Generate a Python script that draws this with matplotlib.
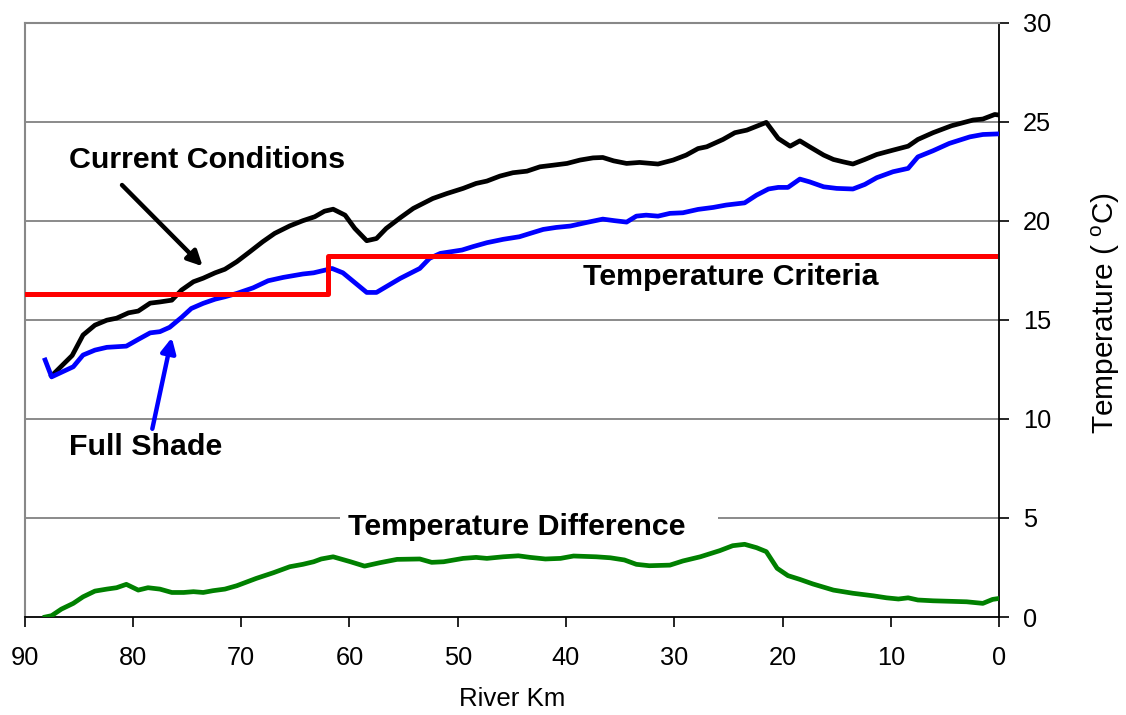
import matplotlib.pyplot as plt

plt.rcParams['font.family'] = ['Liberation Sans', 'DejaVu Sans']
plt.rcParams['mathtext.default'] = 'regular'

# current conditions (river km, deg C)
current_km = [87.5, 85.6, 84.6, 83.5, 82.4, 81.5, 80.4, 79.5, 78.4, 77.5, 76.4, 75.5,
              74.4, 73.5, 72.4, 71.5, 70.4, 69.2, 68.0, 66.9, 65.5, 64.3, 63.2, 62.3,
              61.5, 60.4, 59.5, 58.4, 57.5, 56.6, 55.3, 54.1, 52.3, 51.0, 49.5, 48.3,
              47.3, 46.1, 44.9, 43.6, 42.4, 41.2, 39.9, 38.7, 37.5, 36.6, 35.6, 34.4,
              33.2, 31.5, 30.1, 28.9, 27.8, 27.0, 25.5, 24.4, 23.3, 21.5, 20.4, 19.3,
              18.4, 17.5, 16.2, 15.3, 14.4, 13.5, 12.4, 11.3, 9.8, 8.4, 7.5, 6.1,
              4.4, 2.4, 1.5, 0.4, 0.0]
current_temp = [12.17, 13.2, 14.23, 14.73, 14.98, 15.08, 15.35, 15.44, 15.84, 15.9, 15.99, 16.5,
                16.92, 17.1, 17.37, 17.55, 17.93, 18.43, 18.94, 19.36, 19.74, 20.0, 20.2, 20.48,
                20.58, 20.28, 19.61, 18.99, 19.1, 19.61, 20.15, 20.62, 21.12, 21.37, 21.63, 21.88,
                22.0, 22.25, 22.42, 22.5, 22.72, 22.8, 22.89, 23.06, 23.17, 23.19, 23.02, 22.89,
                22.94, 22.86, 23.06, 23.31, 23.64, 23.73, 24.1, 24.44, 24.57, 24.96, 24.15, 23.76,
                24.03, 23.73, 23.31, 23.09, 22.97, 22.86, 23.09, 23.34, 23.56, 23.76, 24.1, 24.44,
                24.79, 25.08, 25.13, 25.36, 25.33]

# full shade
shade_km = [88.1, 87.5, 85.5, 84.6, 83.5, 82.4, 80.6, 79.5, 78.4, 77.5, 76.6, 75.5,
            74.6, 73.5, 72.4, 71.5, 70.4, 68.9, 67.5, 66.1, 64.3, 63.3, 61.6, 60.6,
            59.6, 58.4, 57.5, 55.3, 53.5, 52.6, 51.6, 49.6, 48.6, 47.3, 45.8, 44.3,
            43.3, 42.1, 40.9, 39.6, 38.1, 36.6, 35.5, 34.4, 33.5, 32.6, 31.5, 30.4,
            29.2, 27.8, 26.4, 25.2, 23.5, 22.4, 21.3, 20.4, 19.5, 18.4, 17.5, 16.2,
            15.0, 13.5, 12.4, 11.3, 9.8, 8.4, 7.5, 6.1, 4.6, 2.7, 1.5, 0.1]
shade_temp = [12.97, 12.12, 12.63, 13.22, 13.47, 13.61, 13.67, 14.01, 14.34, 14.4, 14.62, 15.12,
              15.57, 15.83, 16.04, 16.16, 16.33, 16.61, 16.97, 17.14, 17.31, 17.37, 17.59, 17.37,
              16.92, 16.38, 16.38, 17.09, 17.59, 18.1, 18.35, 18.52, 18.69, 18.89, 19.06, 19.19,
              19.36, 19.56, 19.66, 19.73, 19.91, 20.08, 20.0, 19.93, 20.23, 20.28, 20.23, 20.37,
              20.4, 20.57, 20.67, 20.79, 20.9, 21.29, 21.6, 21.68, 21.68, 22.1, 21.96, 21.71,
              21.63, 21.6, 21.83, 22.17, 22.47, 22.64, 23.22, 23.53, 23.9, 24.23, 24.35, 24.38]

# temperature criteria, stepped at km 62
criteria_km = [90, 62, 0.4]
criteria_temp = [16.3, 18.2, 18.2]

# temperature difference
diff_km = [88.1, 87.5, 86.6, 85.5, 84.6, 83.5, 82.4, 81.5, 80.6, 79.5, 78.6, 77.5,
           76.4, 75.3, 74.4, 73.5, 72.6, 71.5, 70.4, 68.6, 67.0, 65.5, 64.3, 63.3,
           62.6, 61.5, 59.9, 58.6, 57.2, 55.6, 53.5, 52.4, 51.3, 49.5, 48.3, 47.3,
           45.8, 44.4, 43.3, 41.9, 40.5, 39.3, 37.2, 35.9, 34.6, 33.5, 32.3, 30.4,
           29.2, 27.6, 25.8, 24.6, 23.5, 22.4, 21.5, 20.5, 19.5, 18.4, 17.2, 15.3,
           13.5, 11.6, 10.4, 9.3, 8.4, 7.5, 6.1, 3.0, 1.5, 0.6, 0.0]
diff_temp = [0.0, 0.07, 0.4, 0.69, 1.02, 1.31, 1.41, 1.48, 1.65, 1.36, 1.48, 1.41,
             1.24, 1.24, 1.28, 1.24, 1.33, 1.41, 1.58, 1.95, 2.24, 2.54, 2.66, 2.79,
             2.93, 3.04, 2.79, 2.57, 2.74, 2.91, 2.93, 2.76, 2.79, 2.96, 3.01, 2.96,
             3.04, 3.09, 3.01, 2.93, 2.96, 3.08, 3.04, 2.99, 2.88, 2.66, 2.59, 2.62,
             2.83, 3.04, 3.35, 3.6, 3.67, 3.5, 3.3, 2.46, 2.09, 1.9, 1.67, 1.36,
             1.2, 1.07, 0.97, 0.91, 0.97, 0.86, 0.82, 0.77, 0.69, 0.89, 0.94]

fig = plt.figure(figsize=(11.26, 7.15), dpi=100)
ax = fig.add_axes([0.0218, 0.137, 0.8655, 0.8315])

grid_color = '#777777'
for t in [10, 15, 20, 25]:
    ax.axhline(t, color=grid_color, lw=1.2, zorder=1)
# the 5 degree line is broken by the difference label
ax.hlines(5, 90, 60.9, color=grid_color, lw=1.2, zorder=1)
ax.hlines(5, 26.0, 0, color=grid_color, lw=1.2, zorder=1)

lw = 3.4
ax.plot(current_km, current_temp, color='black', lw=lw, zorder=3)
ax.plot(shade_km, shade_temp, color='#0000FF', lw=lw, zorder=3)
ax.plot(criteria_km, criteria_temp, color='#FF0000', lw=3.6, drawstyle='steps-post', zorder=4)
ax.plot(diff_km, diff_temp, color='#008000', lw=lw, zorder=3)

ax.set_xlim(90, 0)
ax.set_ylim(0, 30)
ax.set_xticks(range(90, -1, -10))
ax.set_yticks(range(0, 31, 5))
ax.yaxis.tick_right()
ax.tick_params(axis='both', direction='out', length=7, width=1.2, labelsize=18.3, colors='black')
ax.tick_params(axis='x', pad=14)
ax.tick_params(axis='y', pad=10)

for side in ['left', 'top']:
    ax.spines[side].set_color('#888888')
    ax.spines[side].set_linewidth(1.5)
for side in ['right', 'bottom']:
    ax.spines[side].set_color('black')
    ax.spines[side].set_linewidth(1.3)

ax.set_xlabel('River Km', fontsize=18.6, labelpad=12)
ax.set_ylabel('Temperature ( $^{o}$C)', fontsize=21.5, rotation=90, ha='center', va='center')
ax.yaxis.set_label_coords(1.109, 0.511)

bold = dict(fontsize=21.9, fontweight='bold', va='center', ha='left')
ax.text(85.9, 23.06, 'Current Conditions', **bold)
ax.text(85.9, 8.58, 'Full Shade', **bold)
ax.text(38.4, 17.15, 'Temperature Criteria', **bold)
ax.text(44.5, 4.54, 'Temperature Difference', fontsize=21.9, fontweight='bold',
        va='center', ha='center', zorder=5)

ax.annotate('', xy=(73.55, 17.7), xytext=(81.0, 21.8),
            arrowprops=dict(arrowstyle='-|>', color='black', lw=3.2, mutation_scale=22,
                            shrinkA=0, shrinkB=0))
ax.annotate('', xy=(76.4, 14.1), xytext=(78.2, 9.5),
            arrowprops=dict(arrowstyle='-|>', color='#0000FF', lw=3.2, mutation_scale=22,
                            shrinkA=0, shrinkB=0))

plt.savefig('out.png', dpi=100)
